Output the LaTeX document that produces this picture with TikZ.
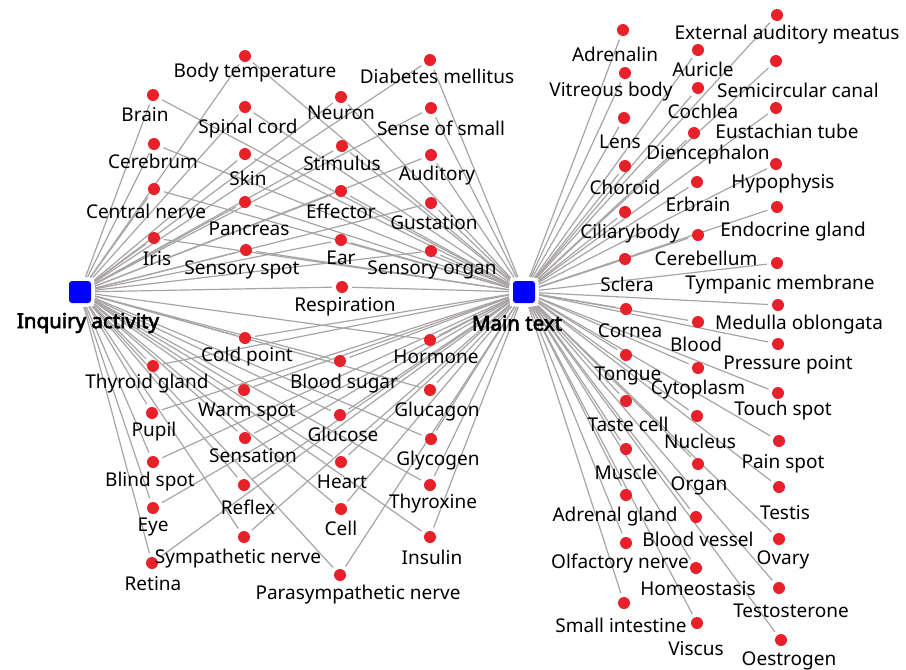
\documentclass[tikz,border=0pt]{standalone}
\usepackage{fontspec}
\setmainfont{Noto Sans}
\newfontfamily\hubfont[FakeBold=3]{Noto Sans}
\usetikzlibrary{backgrounds}
\definecolor{dotred}{RGB}{232,32,42}
\definecolor{edgegray}{RGB}{168,164,164}
\definecolor{hubblue}{RGB}{0,0,255}
\tikzset{
  kdot/.style={circle, fill=dotred, minimum size=12pt, inner sep=0pt},
  hub/.style={fill=hubblue, minimum size=22pt, inner sep=0pt, rounded corners=3pt},
  lab/.style={font=\fontsize{19}{21}\selectfont, inner sep=0pt, yshift=-2pt},
  hublab/.style={font=\hubfont\fontsize{20.5}{22}\selectfont, inner sep=0pt, yshift=-1pt},
  link/.style={draw=edgegray, line width=1.2pt, shorten <=4pt, shorten >=4pt}
}
\newcommand\kw[4]{\node[kdot] (#1) at (#2) {}; \node[lab] (#1-l) at (#3) {#4};}
\begin{document}
\begin{tikzpicture}[x=1pt,y=-1pt]
\useasboundingbox (0,0) rectangle (906,670);
% hubs
\node[hub] (ia) at (80,292) {};
\node[hublab] (ia-l) at (88,322) {Inquiry activity};
\node[hub] (mt) at (524,292) {};
\node[hublab] (mt-l) at (517,322) {Main text};
% shared keywords
\kw{brain}{153,95}{145,113}{Brain}
\kw{cerebrum}{154,144}{153,159}{Cerebrum}
\kw{central}{154,189}{146,209}{Central nerve}
\kw{iris}{154,238}{157,257}{Iris}
\kw{bodytemp}{245,56}{255,71}{Body temperature}
\kw{spinal}{245,107}{248,127}{Spinal cord}
\kw{skin}{245,154}{248,176}{Skin}
\kw{pancreas}{245,202}{249,227}{Pancreas}
\kw{sensspot}{246,250}{242,268}{Sensory spot}
\kw{neuron}{341,97}{341,111}{Neuron}
\kw{stimulus}{342,146}{342,161}{Stimulus}
\kw{effector}{341,191}{341,209}{Effector}
\kw{ear}{341,240}{341,256}{Ear}
\kw{respiration}{342,287}{345,305}{Respiration}
\kw{diabetes}{430,60}{437,74}{Diabetes mellitus}
\kw{smell}{431,108}{441,126}{Sense of small}
\kw{auditory}{431,155}{437,174}{Auditory}
\kw{gustation}{431,203}{434,221}{Gustation}
\kw{sensorgan}{431,251}{432,268}{Sensory organ}
\kw{thyroid}{153,366}{147,382}{Thyroid gland}
\kw{pupil}{152,413}{154,430}{Pupil}
\kw{blind}{153,462}{150,480}{Blind spot}
\kw{eye}{153,508}{153,525}{Eye}
\kw{retina}{152,563}{153,582}{Retina}
\kw{cold}{245,338}{247,355}{Cold point}
\kw{warm}{244,390}{247,410}{Warm spot}
\kw{sensation}{245,438}{253,454}{Sensation}
\kw{reflex}{244,485}{248,505}{Reflex}
\kw{symp}{244,537}{238,557}{Sympathetic nerve}
\kw{bsugar}{340,361}{344,382}{Blood sugar}
\kw{glucose}{340,415}{343,432}{Glucose}
\kw{heart}{341,462}{342,480}{Heart}
\kw{cell}{341,509}{341,526}{Cell}
\kw{parasymp}{340,575}{358,593}{Parasympathetic nerve}
\kw{hormone}{430,340}{436,355}{Hormone}
\kw{glucagon}{430,390}{437,410}{Glucagon}
\kw{glycogen}{431,439}{438,459}{Glycogen}
\kw{thyroxine}{430,485}{433,502}{Thyroxine}
\kw{insulin}{430,537}{432,555}{Insulin}
% main text only
\kw{adrenalin}{623,30}{615,52}{Adrenalin}
\kw{vitreous}{625,73}{611,90}{Vitreous body}
\kw{lens}{624,118}{620,140}{Lens}
\kw{choroid}{625,166}{625,185}{Choroid}
\kw{ciliary}{625,212}{630,232}{Ciliarybody}
\kw{sclera}{625,259}{627,282}{Sclera}
\kw{extaud}{777,15}{787,33}{External auditory meatus}
\kw{auricle}{698,50}{703,67}{Auricle}
\kw{semicirc}{776,61}{798,88}{Semicircular canal}
\kw{cochlea}{698,88}{703,109}{Cochlea}
\kw{eustach}{776,108}{787,129}{Eustachian tube}
\kw{dienceph}{694,133}{708,153}{Diencephalon}
\kw{hypoph}{776,164}{783,182}{Hypophysis}
\kw{erbrain}{697,182}{698,202}{Erbrain}
\kw{endocrine}{777,207}{793,230}{Endocrine gland}
\kw{cerebellum}{698,235}{706,256}{Cerebellum}
\kw{tympanic}{777,263}{780,283}{Tympanic membrane}
\kw{cornea}{626,309}{630,329}{Cornea}
\kw{medulla}{778,305}{799,323}{Medulla oblongata}
\kw{blood}{698,322}{696,342}{Blood}
\kw{pressure}{778,344}{788,363}{Pressure point}
\kw{tongue}{626,355}{628,374}{Tongue}
\kw{cytoplasm}{698,368}{698,388}{Cytoplasm}
\kw{touch}{778,393}{783,409}{Touch spot}
\kw{taste}{626,401}{628,422}{Taste cell}
\kw{nucleus}{697,416}{700,439}{Nucleus}
\kw{pain}{779,441}{783,462}{Pain spot}
\kw{muscle}{626,449}{626,470}{Muscle}
\kw{organ}{698,464}{699,484}{Organ}
\kw{testis}{779,487}{785,511}{Testis}
\kw{adrenal}{626,495}{615,515}{Adrenal gland}
\kw{bvessel}{696,517}{698,537}{Blood vessel}
\kw{ovary}{779,539}{783,558}{Ovary}
\kw{olfactory}{626,543}{620,562}{Olfactory nerve}
\kw{homeo}{696,568}{698,587}{Homeostasis}
\kw{testost}{779,588}{791,609}{Testosterone}
\kw{smallint}{624,603}{621,623}{Small intestine}
\kw{viscus}{697,623}{696,647}{Viscus}
\kw{oestrogen}{781,640}{789,659}{Oestrogen}
\begin{pgfonlayer}{background}
\foreach \n in {brain,cerebrum,central,iris,bodytemp,spinal,skin,pancreas,sensspot,
  neuron,stimulus,effector,ear,respiration,diabetes,smell,auditory,gustation,sensorgan,
  thyroid,pupil,blind,eye,retina,cold,warm,sensation,reflex,symp,bsugar,glucose,heart,
  cell,parasymp,hormone,glucagon,glycogen,thyroxine,insulin}{
  \draw[link] (ia) -- (\n);
  \draw[link] (mt) -- (\n);
}
\foreach \n in {adrenalin,vitreous,lens,choroid,ciliary,sclera,extaud,auricle,semicirc,
  cochlea,eustach,dienceph,hypoph,erbrain,endocrine,cerebellum,tympanic,cornea,medulla,
  blood,pressure,tongue,cytoplasm,touch,taste,nucleus,pain,muscle,organ,testis,adrenal,
  bvessel,ovary,olfactory,homeo,testost,smallint,viscus,oestrogen}{
  \draw[link] (mt) -- (\n);
}
\end{pgfonlayer}
\end{tikzpicture}
\end{document}
